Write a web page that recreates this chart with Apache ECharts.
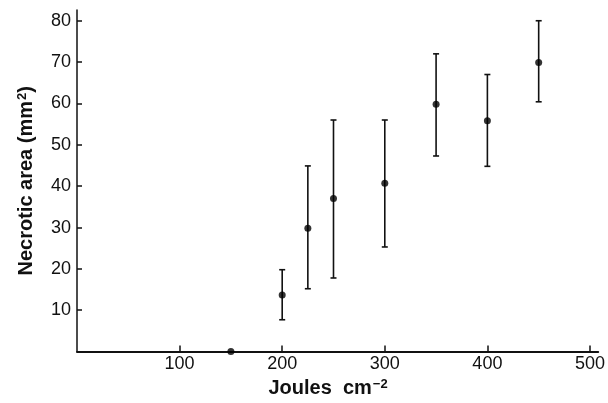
<!DOCTYPE html>
<html><head><meta charset="utf-8">
<script src="https://cdn.jsdelivr.net/npm/echarts@6/dist/echarts.min.js"></script>
<style>html,body{margin:0;padding:0;background:#fff}#c{width:608px;height:403px}</style>
</head><body><div id="c"></div>
<script>
const doses = [150, 200, 225, 250, 300, 350, 400, 450];
const means = [0, 13.7, 29.8, 37.0, 40.7, 59.8, 55.8, 69.9];
const lows  = [null, 7.7, 15.2, 17.8, 25.3, 47.3, 44.8, 60.4];
const highs = [null, 19.8, 44.9, 56.0, 56.0, 72.0, 67.0, 80.0];
const xTicks = [100, 200, 300, 400, 500];
const yTicks = [10, 20, 30, 40, 50, 60, 70, 80];

const F = '"Liberation Sans", Arial, Helvetica, sans-serif';
const chart = echarts.init(document.getElementById('c'), null, {renderer: 'canvas'});
const errData = doses.map((d, i) => [d, lows[i], highs[i]]).filter(r => r[1] !== null);
const supStyle = {fontSize: 13, fontWeight: 'bold', fontFamily: F, color: '#111',
  padding: [0, 0, 8, 1], verticalAlign: 'bottom'};
chart.setOption({
  animation: false,
  grid: {left: 77, right: 8, top: 10, bottom: 51},
  xAxis: {
    type: 'value', min: 0, max: 508, interval: 100,
    axisLine: {lineStyle: {color: '#111', width: 2}},
    axisTick: {inside: true, length: 6, lineStyle: {color: '#111', width: 1.5},
      customValues: xTicks},
    axisLabel: {color: '#111', fontSize: 18, fontFamily: F, margin: 3,
      customValues: xTicks},
    splitLine: {show: false},
    name: 'Joules  cm{sup|\u22122}', nameLocation: 'middle', nameGap: 21,
    nameTextStyle: {color: '#111', fontSize: 20, fontWeight: 'bold', fontFamily: F,
      padding: [0, 19, 0, 0], verticalAlign: 'top',
      rich: {sup: supStyle}}
  },
  yAxis: {
    type: 'value', min: 0, max: 82.6, interval: 10,
    axisLine: {show: true, lineStyle: {color: '#111', width: 1.5}},
    axisTick: {show: true, inside: true, length: 5, lineStyle: {color: '#111', width: 1.5},
      customValues: yTicks},
    axisLabel: {color: '#111', fontSize: 18, fontFamily: F, margin: 6,
      customValues: yTicks},
    splitLine: {show: false},
    name: 'Necrotic area (mm{sup|2})', nameLocation: 'middle', nameGap: 40,
    nameTextStyle: {color: '#111', fontSize: 20, fontWeight: 'bold', fontFamily: F,
      rich: {sup: supStyle}}
  },
  series: [
    {
      type: 'custom',
      data: errData,
      renderItem: function (params, api) {
        const x = api.value(0);
        const lo = api.coord([x, api.value(1)]);
        const hi = api.coord([x, api.value(2)]);
        const w = 3;
        const st = {stroke: '#111', lineWidth: 1.6};
        return {type: 'group', children: [
          {type: 'line', shape: {x1: lo[0], y1: lo[1], x2: hi[0], y2: hi[1]}, style: st},
          {type: 'line', shape: {x1: lo[0] - w, y1: lo[1], x2: lo[0] + w, y2: lo[1]}, style: st},
          {type: 'line', shape: {x1: hi[0] - w, y1: hi[1], x2: hi[0] + w, y2: hi[1]}, style: st}
        ]};
      },
      z: 2
    },
    {
      type: 'scatter',
      data: doses.map((d, i) => [d, means[i]]),
      symbol: 'circle', symbolSize: 7,
      itemStyle: {color: '#000'},
      z: 3
    }
  ]
});
</script></body></html>
